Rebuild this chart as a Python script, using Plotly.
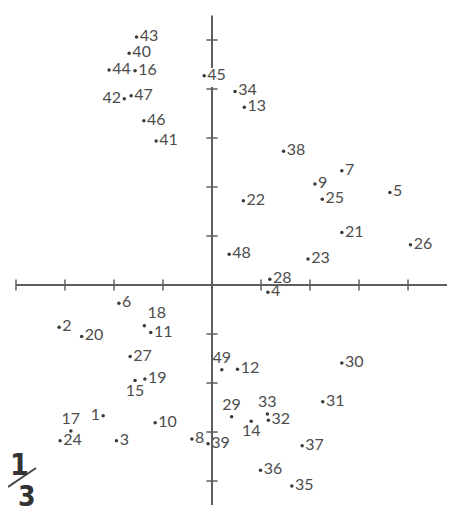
import plotly.graph_objects as go

# point numbers and their positions (axis units, one tick = 1)
point_ids = list(range(1, 50))
x_vals = [-2.22, -3.12, -1.95, 1.14, 3.63, -1.90, 2.65, -0.41, 2.10, -1.16,
          -1.25, 0.52, 0.66, 0.80, -1.57, -1.57, -2.88, -1.38, -1.37, -2.66,
          2.65, 0.64, 1.96, -3.10, 2.25, 4.05, -1.67, 1.18, 0.40, 2.65,
          2.26, 1.15, 1.13, 0.47, 1.63, 0.99, 1.84, 1.46, -0.08, -1.69,
          -1.14, -1.79, -1.54, -2.10, -0.16, -1.39, -1.65, 0.35, 0.20]
y_vals = [-2.67, -0.86, -3.18, -0.15, 1.89, -0.37, 2.33, -3.14, 2.06, -2.81,
          -0.97, -1.72, 3.63, -2.78, -1.95, 4.37, -2.98, -0.83, -1.92, -1.05,
          1.07, 1.72, 0.53, -3.18, 1.75, 0.82, -1.46, 0.12, -2.69, -1.59,
          -2.38, -2.76, -2.63, 3.95, -4.10, -3.78, -3.28, 2.73, -3.24, 4.73,
          2.94, 3.80, 5.06, 4.39, 4.27, 3.35, 3.86, 0.63, -1.73]
label_pos = {1: "middle left", 42: "middle left", 14: "bottom center",
             15: "bottom center", 17: "top center", 29: "top center",
             33: "top center", 49: "top center", 18: "top right"}

x_ticks = [-4, -3, -2, -1, 1, 2, 3, 4]
y_ticks = [-4, -3, -2, -1, 1, 2, 3, 4, 5]

# the page body keeps its default 8px margin, so the figure is 8px smaller
W, H, PAD = 447, 506, 8
X_RANGE = [-4.163, 4.959]
Y_RANGE = [-4.673, 5.653]
AXIS_COLOR = "#5e5e5e"
INK = "#4d4d4d"
MARK_FONT = "Liberation Sans Narrow, DejaVu Sans Condensed, sans-serif"


def px(x):
    return (x - PAD) / W


def py(y):
    return 1 - (y - PAD) / H


fig = go.Figure()

# axes as lines through the origin
fig.add_shape(type="line", x0=-4.0, x1=X_RANGE[1], y0=0, y1=0,
              line=dict(color=AXIS_COLOR, width=2))
fig.add_shape(type="line", x0=0, x1=0, y0=-4.49, y1=4.04,
              line=dict(color=AXIS_COLOR, width=2))
fig.add_shape(type="line", x0=0, x1=0, y0=4.43, y1=5.50,
              line=dict(color=AXIS_COLOR, width=2))

fig.add_trace(go.Scatter(
    x=x_ticks, y=[0] * len(x_ticks), mode="markers", hoverinfo="skip",
    marker=dict(symbol="line-ns", size=8, line=dict(color=AXIS_COLOR, width=1.5)),
))
fig.add_trace(go.Scatter(
    x=[0] * len(y_ticks), y=y_ticks, mode="markers", hoverinfo="skip",
    marker=dict(symbol="line-ew", size=8, line=dict(color=AXIS_COLOR, width=1.5)),
))

fig.add_trace(go.Scatter(
    x=x_vals, y=y_vals, mode="markers+text",
    text=[str(i) for i in point_ids],
    textposition=[label_pos.get(i, "middle right") for i in point_ids],
    textfont=dict(family="Lato, Open Sans, sans-serif", size=16, color=INK),
    marker=dict(size=3.5, color="#3a3a3a"),
    hovertemplate="%{text}: (%{x}, %{y})<extra></extra>",
))

# "1/3" mark in the lower left corner
fig.add_annotation(x=px(19), y=py(464), xref="paper", yref="paper",
                   xanchor="center", yanchor="middle",
                   text="<b>1</b>", showarrow=False,
                   font=dict(family=MARK_FONT, size=30, color="#333"))
fig.add_annotation(x=px(27), y=py(496), xref="paper", yref="paper",
                   xanchor="center", yanchor="middle",
                   text="<b>3</b>", showarrow=False,
                   font=dict(family=MARK_FONT, size=28, color="#333"))
fig.add_shape(type="line", xref="paper", yref="paper",
              x0=px(8), y0=py(487), x1=px(36), y1=py(468),
              line=dict(color="#444", width=2))

fig.update_layout(
    width=W, height=H,
    margin=dict(l=0, r=0, t=0, b=0),
    paper_bgcolor="white", plot_bgcolor="white",
    showlegend=False,
    xaxis=dict(range=X_RANGE, visible=False, fixedrange=True),
    yaxis=dict(range=Y_RANGE, visible=False, fixedrange=True),
)

fig.write_html("out.html")
